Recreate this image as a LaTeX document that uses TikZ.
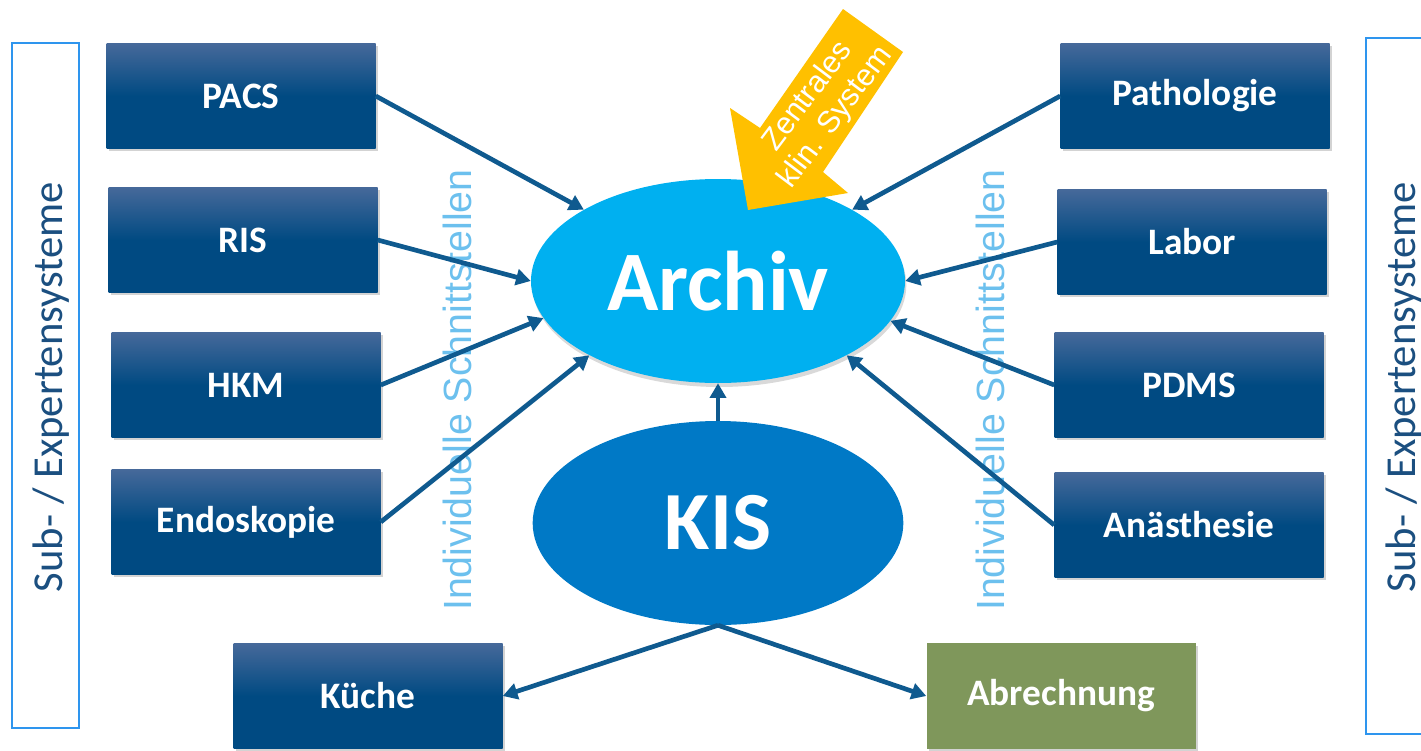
\documentclass[tikz,border=0pt]{standalone}
\usepackage{fontspec}
\setmainfont{Carlito}
\newfontfamily\arialf{Liberation Sans}
\usetikzlibrary{arrows.meta,shapes.geometric,shadows}
\definecolor{boxtop}{HTML}{46699A}
\definecolor{boxbot}{HTML}{004A82}
\definecolor{arrowc}{HTML}{0F5A8F}
\definecolor{archivc}{HTML}{00B0F0}
\definecolor{kisc}{HTML}{0079C6}
\definecolor{greenc}{HTML}{7F975B}
\definecolor{framec}{HTML}{2E95EE}
\definecolor{framet}{HTML}{1B4F80}
\definecolor{ifacec}{HTML}{6CC0EE}
\definecolor{yellowc}{HTML}{FFC000}
\tikzset{
  sysbox/.style={rectangle, minimum width=201.75pt, minimum height=79pt, inner sep=0pt,
    top color=boxtop, bottom color=boxbot, middle color=boxbot,
    drop shadow={shadow xshift=2pt, shadow yshift=-2pt, opacity=0.35},
    text=white, font=\bfseries\fontsize{28}{32}\selectfont},
  greenbox/.style={rectangle, minimum width=201.75pt, minimum height=79pt, inner sep=0pt,
    fill=greenc, drop shadow={shadow xshift=2pt, shadow yshift=-2pt, opacity=0.35},
    text=white, font=\bfseries\fontsize{28}{32}\selectfont},
  conn/.style={draw=arrowc, line width=3.5pt, -{Triangle[length=11pt,width=12pt]}},
  frame/.style={draw=framec, line width=2pt},
  frametext/.style={text=framet, rotate=90, font=\fontsize{32}{36}\selectfont},
  ifacetext/.style={text=ifacec, rotate=90, font=\arialf\fontsize{29.5}{34}\selectfont},
}
\begin{document}
\begin{tikzpicture}[x=0.75pt,y=-0.75pt]
\useasboundingbox (0,0) rectangle (1421,750);
% side frames
\draw[frame] (12,43) rectangle (79,728);
\draw[frame] (1366,38) rectangle (1440,734);
\node[frametext] (sl) at (51,387) {Sub- / Expertensysteme};
\node[frametext] (sr) at (1404,387) {Sub- / Expertensysteme};
% interface labels
\node[ifacetext] (il) at (457,390) {Individuelle Schnittstellen};
\node[ifacetext] (ir) at (990,390) {Individuelle Schnittstellen};
% ellipses
\node[ellipse, fill=archivc, minimum width=280.5pt, minimum height=153pt, inner sep=0pt,
  drop shadow={shadow xshift=1pt, shadow yshift=-3pt, opacity=0.3},
  text=white, font=\bfseries\fontsize{63.5}{70}\selectfont] (archiv) at (718,281) {Archiv};
\node[ellipse, fill=kisc, minimum width=278pt, minimum height=153pt, inner sep=0pt,
  text=white, font=\bfseries\fontsize{62}{70}\selectfont] (kis) at (718,523) {KIS};
% boxes
\node[sysbox] (pacs) at (241,96) {PACS};
\node[sysbox] (ris) at (243,240) {RIS};
\node[sysbox] (hkm) at (246,385) {HKM};
\node[sysbox] (endo) at (246,522) {Endoskopie};
\node[sysbox] (patho) at (1195,96) {Pathologie};
\node[sysbox] (labor) at (1192,242) {Labor};
\node[sysbox] (pdms) at (1189,385) {PDMS};
\node[sysbox] (anae) at (1189,525) {Anästhesie};
\node[sysbox] (kueche) at (368,696) {Küche};
\node[greenbox] (abr) at (1061,696) {Abrechnung};
% connectors
\draw[conn] (pacs.east) -- (archiv.152);
\draw[conn] (ris.east) -- (archiv.180);
\draw[conn] (hkm.east) -- (archiv.192);
\draw[conn] (endo.east) -- (archiv.210);
\draw[conn] (patho.west) -- (archiv.28);
\draw[conn] (labor.west) -- (archiv.0);
\draw[conn] (pdms.west) -- (archiv.347);
\draw[conn] (anae.west) -- (archiv.330);
\draw[conn] (kis.north) -- (archiv.south);
\draw[conn] (kis.south) -- (kueche.east);
\draw[conn] (kis.south) -- (abr.west);
% yellow block arrow
\fill[yellowc] (843,9) -- (903,52) -- (823,172) -- (848,193) -- (748,210) -- (730,108) -- (760,128) -- cycle;
\node[text=white, rotate=53, align=center, font=\arialf\fontsize{23}{26}\selectfont] (zks) at (822,107) {Zentrales\\klin. System};
\end{tikzpicture}
\end{document}
